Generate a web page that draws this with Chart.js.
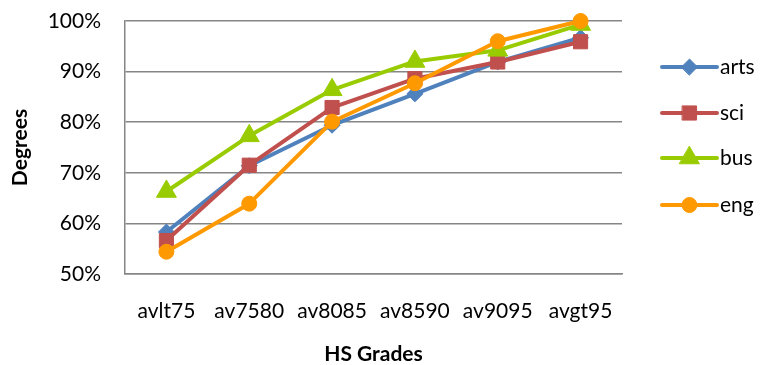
<!DOCTYPE html>
<html>
<head>
<meta charset="utf-8">
<script src="https://cdn.jsdelivr.net/npm/chart.js@4/dist/chart.umd.min.js"></script>
<style>
  html, body { margin: 0; padding: 0; background: #fff; }
  #wrap { width: 764px; height: 365px; }
</style>
</head>
<body>
<div id="wrap"><canvas id="c" width="764" height="365"></canvas></div>
<script>
// Degree completion rate by high-school grade band, per faculty
const categories = ['avlt75', 'av7580', 'av8085', 'av8590', 'av9095', 'avgt95'];
const arts = [58.3, 71.4, 79.4, 85.6, 91.9, 96.7];
const sci  = [56.6, 71.5, 82.9, 88.6, 91.9, 95.9];
const bus  = [66.3, 77.3, 86.4, 92.0, 94.2, 99.3];
const eng  = [54.4, 63.9, 80.1, 87.7, 96.0, 100.0];
const yTicks = [50, 60, 70, 80, 90, 100];

const FONT = 'Lato, "Open Sans", sans-serif';

function series(label, data, color, style, radius, order) {
  return {
    label, data,
    borderColor: color, backgroundColor: color,
    pointBackgroundColor: color, pointBorderColor: color,
    pointStyle: style, pointRadius: radius, pointHoverRadius: radius,
    pointBorderWidth: 1,
    borderWidth: 4, borderCapStyle: 'round', borderJoinStyle: 'round',
    tension: 0, clip: false, order
  };
}

const datasets = [
  series('arts', arts, '#4F81BD', 'rectRot', 8, 4),
  series('sci',  sci,  '#C0504D', 'rect', 10, 3),
  series('bus',  bus,  '#99CC00', 'triangle', 11.5, 2),
  series('eng',  eng,  '#FF9900', 'circle', 7.5, 1)
];

// Legend on the right: line segment with the series marker in its middle
const sideLegend = {
  id: 'sideLegend',
  afterDraw(chart) {
    const ctx = chart.ctx;
    const x0 = 662, x1 = 717, rowY = [67, 113, 158, 205];
    const items = chart.data.datasets;
    ctx.save();
    items.forEach((ds, i) => {
      const y = rowY[i];
      ctx.strokeStyle = ds.borderColor;
      ctx.lineWidth = 4;
      ctx.lineCap = 'round';
      ctx.beginPath();
      ctx.moveTo(x0, y);
      ctx.lineTo(x1, y);
      ctx.stroke();
      ctx.fillStyle = ds.backgroundColor;
      ctx.strokeStyle = ds.borderColor;
      ctx.lineWidth = 1;
      Chart.helpers.drawPoint(ctx, { pointStyle: ds.pointStyle, radius: ds.pointRadius, rotation: 0, borderWidth: 1 }, (x0 + x1) / 2, y);
      ctx.fillStyle = '#000';
      ctx.font = '21px ' + FONT;
      ctx.textBaseline = 'middle';
      ctx.textAlign = 'left';
      ctx.fillText(ds.label, 720, y);
    });
    ctx.restore();
  }
};

new Chart(document.getElementById('c'), {
  type: 'line',
  data: { labels: categories, datasets },
  plugins: [sideLegend],
  options: {
    responsive: false,
    animation: false,
    events: [],
    layout: { padding: { top: 21, right: 142, bottom: 0, left: 0 } },
    plugins: { legend: { display: false }, tooltip: { enabled: false } },
    scales: {
      x: {
        offset: true,
        grid: { display: false, drawTicks: false },
        border: { color: '#868686', width: 1.5 },
        ticks: { color: '#000', font: { family: FONT, size: 21 }, padding: 25, maxRotation: 0, autoSkip: false },
        title: { display: true, text: 'HS Grades', color: '#000', font: { family: FONT, size: 21, weight: 'bold', lineHeight: 1 }, padding: { top: 0, bottom: 0 } },
        afterFit(s) { s.height = 91; }
      },
      y: {
        min: 50, max: 100,
        afterBuildTicks(s) { s.ticks = yTicks.map(v => ({ value: v })); },
        grid: { color: '#868686', lineWidth: 1.5, drawTicks: false },
        border: { color: '#868686', width: 1.5 },
        ticks: { color: '#000', font: { family: FONT, size: 21 }, padding: 24, callback: v => v + '%' },
        title: { display: true, text: 'Degrees', color: '#000', font: { family: FONT, size: 21, weight: 'bold' }, padding: { top: 8, bottom: 0 } },
        afterFit(s) { s.width = 125; s.paddingTop = 0; s.paddingBottom = 0; }
      }
    }
  }
});
</script>
</body>
</html>
